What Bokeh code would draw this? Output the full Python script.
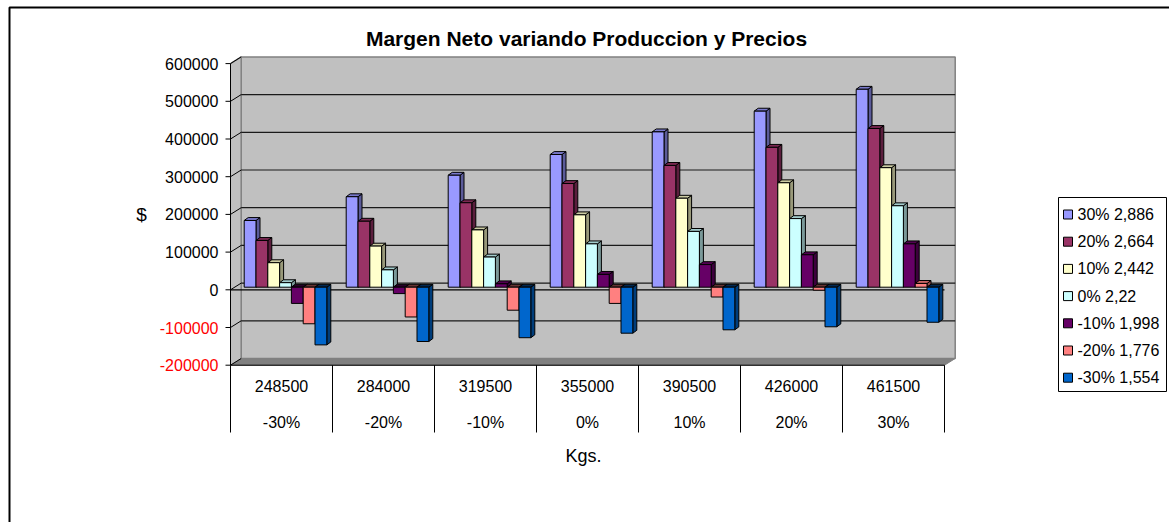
from bokeh.plotting import figure
from bokeh.models import Range1d, ColumnDataSource
from bokeh.embed import file_html
from bokeh.resources import INLINE
from bokeh.core.properties import value

# ---------------------------------------------------------------- data
produccion = ["248500", "284000", "319500", "355000", "390500", "426000", "461500"]
variacion_prod = ["-30%", "-20%", "-10%", "0%", "10%", "20%", "30%"]

series_names = ["30% 2,886", "20% 2,664", "10% 2,442", "0% 2,22",
                "-10% 1,998", "-20% 1,776", "-30% 1,554"]

margen_precio_p30 = [177000, 240000, 297000, 352000, 412000, 467000, 525000]
margen_precio_p20 = [124000, 175000, 224000, 275000, 323000, 371000, 421000]
margen_precio_p10 = [65000, 109000, 152000, 192000, 236000, 277000, 317000]
margen_precio_0 = [12000, 46000, 80000, 115000, 148000, 182000, 216000]
margen_precio_m10 = [-43000, -17000, 9000, 34000, 60000, 86000, 115000]
margen_precio_m20 = [-97000, -79000, -61000, -43000, -26000, -8000, 10000]
margen_precio_m30 = [-153000, -144000, -134000, -122000, -113000, -105000, -93000]

series_values = [margen_precio_p30, margen_precio_p20, margen_precio_p10,
                 margen_precio_0, margen_precio_m10, margen_precio_m20,
                 margen_precio_m30]

y_ticks = [600000, 500000, 400000, 300000, 200000, 100000, 0, -100000, -200000]

# ---------------------------------------------------------------- style
series_colors = ["#9999FF", "#993366", "#FFFFCC", "#CCFFFF",
                 "#660066", "#FF8080", "#0066CC"]
FONT = value("Liberation Sans")
W, H = 1169, 522

# screen geometry of the front plane: one category = CAT_PX pixels,
# value axis VAL_PX pixels per unit, origin of the category axis at X0/Y0
CAT_PX = 102.0
X0_PX = 230.0
VAL_PX = 37.7 / 100000
Y0_PX = 289.3


def px_x(px):
    return (px - X0_PX) / CAT_PX


def px_y(py):
    return (Y0_PX - py) / VAL_PX


def dx(px):
    return px / CAT_PX


def dy(px):
    return px / VAL_PX


def shade(hex_color, f):
    h = hex_color.lstrip("#")
    r, g, b = (int(h[i:i + 2], 16) for i in (0, 2, 4))
    return "#%02X%02X%02X" % (int(r * f), int(g * f), int(b * f))


Y_MIN, Y_MAX = y_ticks[-1], y_ticks[0]
n_cat = len(produccion)
n_ser = len(series_values)

p = figure(width=W, height=H,
           x_range=Range1d(px_x(0), px_x(W)),
           y_range=Range1d(px_y(H), px_y(0)),
           x_axis_type=None, y_axis_type=None,
           output_backend="svg", toolbar_location=None, min_border=0)
p.grid.visible = False
p.outline_line_color = None
p.background_fill_color = "white"
p.border_fill_color = "white"

# chart area border
p.line([px_x(9), px_x(9), px_x(W + 10)], [px_y(H + 10), px_y(7), px_y(7)],
       line_color="black", line_width=2)

# ---------------------------------------------------------------- 3-D walls
WDX, WDY = dx(10.7), dy(6.7)

p.patch([0, WDX, WDX, 0], [Y_MAX, Y_MAX + WDY, Y_MIN + WDY, Y_MIN],
        fill_color="#C0C0C0", line_color="#C0C0C0")
p.quad(left=[WDX], right=[n_cat + WDX], bottom=[Y_MIN + WDY], top=[Y_MAX + WDY],
       fill_color="#C0C0C0", line_color="#808080", line_width=1.5)
p.patch([0, WDX, n_cat + WDX, n_cat], [Y_MIN, Y_MIN + WDY, Y_MIN + WDY, Y_MIN],
        fill_color="#808080", line_color="#808080")
p.line([0, WDX], [Y_MAX, Y_MAX + WDY], line_color="#808080", line_width=1.5)

# gridlines on the back wall and their diagonals across the side wall
grid_vals = [v for v in y_ticks if Y_MIN < v < Y_MAX]
p.multi_line(xs=[[WDX, n_cat + WDX] for _ in grid_vals],
             ys=[[v + WDY, v + WDY] for v in grid_vals],
             line_color="#1A1A1A", line_width=1.2)
p.multi_line(xs=[[0, WDX] for _ in y_ticks],
             ys=[[v, v + WDY] for v in y_ticks],
             line_color="black", line_width=1)

# value axis line and tick marks
p.line([0, 0], [Y_MIN, Y_MAX], line_color="black", line_width=1)
p.multi_line(xs=[[dx(-5), 0] for _ in y_ticks], ys=[[v, v] for v in y_ticks],
             line_color="black", line_width=1)

# zero line across the front
p.line([0, n_cat], [0, 0], line_color="black", line_width=1.2)

# ---------------------------------------------------------------- bars
bw = dx(11.8)
pad = (1 - n_ser * bw) / 2
BDX, BDY = dx(4.0), dy(2.6)   # depth position of the bar row
EDX, EDY = dx(4.0), dy(2.9)   # depth of each bar

xs, ys, fills = [], [], []
for i in range(n_cat):
    for k in range(n_ser):
        v = series_values[k][i]
        col = series_colors[k]
        left = i + pad + k * bw + BDX
        right = left + bw
        lo, hi = min(BDY, v + BDY), max(BDY, v + BDY)
        # side face
        xs.append([right, right + EDX, right + EDX, right])
        ys.append([lo, lo + EDY, hi + EDY, hi])
        fills.append(shade(col, 0.6))
        # top face
        xs.append([left, left + EDX, right + EDX, right])
        ys.append([hi, hi + EDY, hi + EDY, hi])
        fills.append(shade(col, 0.8) if v >= 0 else shade(col, 0.4))
        # front face
        xs.append([left, right, right, left])
        ys.append([lo, lo, hi, hi])
        fills.append(col)

p.patches(xs="xs", ys="ys", fill_color="fill",
          source=ColumnDataSource(dict(xs=xs, ys=ys, fill=fills)),
          line_color="black", line_width=1)

# ---------------------------------------------------------------- category table
p.line([0, n_cat], [Y_MIN, Y_MIN], line_color="black", line_width=1)
p.multi_line(xs=[[i, i] for i in range(n_cat + 1)],
             ys=[[Y_MIN, px_y(432)] for _ in range(n_cat + 1)],
             line_color="black", line_width=1)

cat_x = [i + 0.5 for i in range(n_cat)]
p.text(x=cat_x, y=[px_y(385)] * n_cat, text=produccion,
       text_font=FONT, text_font_size="16px", text_align="center",
       text_baseline="middle", text_color="black")
p.text(x=cat_x, y=[px_y(422)] * n_cat, text=variacion_prod,
       text_font=FONT, text_font_size="16px", text_align="center",
       text_baseline="middle", text_color="black")

# value axis labels, negatives in red
p.text(x=[dx(-12)] * len(y_ticks), y=y_ticks, text=[str(v) for v in y_ticks],
       text_font=FONT, text_font_size="16px", text_align="right",
       text_baseline="middle",
       text_color=["#FF0000" if v < 0 else "black" for v in y_ticks])

# titles
p.text(x=[px_x(586)], y=[px_y(38)], text=["Margen Neto variando Produccion y Precios"],
       text_font=FONT, text_font_size="21px", text_font_style="bold",
       text_align="center", text_baseline="middle", text_color="black")
p.text(x=[px_x(141)], y=[px_y(214)], text=["$"],
       text_font=FONT, text_font_size="19px", text_align="center",
       text_baseline="middle", text_color="black")
p.text(x=[px_x(583)], y=[px_y(455)], text=["Kgs."],
       text_font=FONT, text_font_size="18px", text_align="center",
       text_baseline="middle", text_color="black")

# ---------------------------------------------------------------- legend
p.quad(left=[px_x(1058)], right=[px_x(1166)], bottom=[px_y(391)], top=[px_y(197)],
       fill_color="white", line_color="black", line_width=1)
row_y = [214 + 27.2 * k for k in range(n_ser)]
p.quad(left=[px_x(1063)] * n_ser, right=[px_x(1072)] * n_ser,
       bottom=[px_y(y + 4.5) for y in row_y], top=[px_y(y - 4.5) for y in row_y],
       fill_color=series_colors, line_color="black", line_width=1)
p.text(x=[px_x(1077)] * n_ser, y=[px_y(y) for y in row_y], text=series_names,
       text_font=FONT, text_font_size="16px", text_align="left",
       text_baseline="middle", text_color="black")

open("out.html", "w").write(file_html(p, INLINE))
